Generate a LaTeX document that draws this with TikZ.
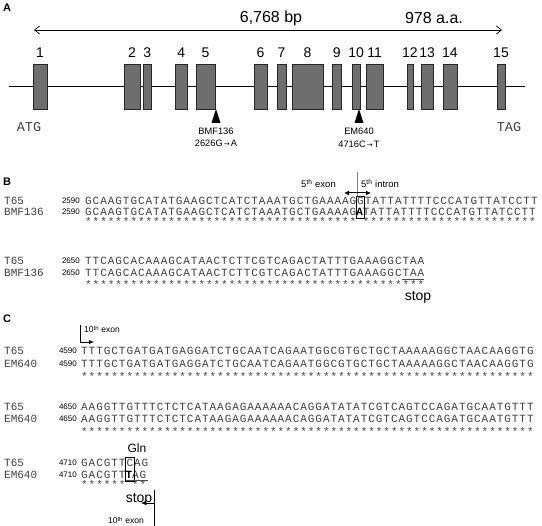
\documentclass[tikz,border=0pt]{standalone}
\usepackage{fontspec}
\setmainfont{Liberation Sans}
\newfontfamily\strainfont{Liberation Mono}
\newfontfamily\seqfont[LetterSpace=8.7]{Liberation Mono}
\newfontfamily\symfont{DejaVu Sans}
\usetikzlibrary{arrows.meta}

\ExplSyntaxOn
\cs_new:Npn \starrun #1 { \prg_replicate:nn {#1} {*} }
\ExplSyntaxOff

\tikzset{
  exon/.style={draw=black!85, fill=black!57, line width=.6pt},
  panel/.style={font=\fontsize{11}{13}\selectfont\bfseries, inner sep=0},
  strain/.style={font=\strainfont\fontsize{11}{13}\selectfont, anchor=base west, inner sep=0, text=black!75},
  seqnum/.style={font=\fontsize{8}{9}\selectfont, anchor=base east, inner sep=0},
  seq/.style={font=\seqfont\fontsize{11}{13}\selectfont, anchor=base west, inner sep=0, text=black!75},
  note/.style={font=\fontsize{9.3}{11}\selectfont, inner sep=0},
  exlab/.style={font=\fontsize{9.5}{11}\selectfont, inner sep=0},
}

\begin{document}
\begin{tikzpicture}[x=1pt, y=-1pt, >={Straight Barb[length=5pt,width=8pt]}]
\useasboundingbox (0,0) rectangle (542,526);

% A
\node[panel] (pa) at (7,8) {A};
\coordinate (al) at (34,30);
\coordinate (ar) at (502,30);
\draw[<->, line width=.7pt] (al) -- (ar);
\node[font=\fontsize{16}{18}\selectfont] (bp) at (271,18) {6,768 bp};
\node[font=\fontsize{16}{18}\selectfont] (aa) at (434,18) {978 a.a.};
\coordinate (gl) at (9,86);
\coordinate (gr) at (525,86);
\draw[line width=.8pt] (gl) -- (gr);
\foreach \l/\r [count=\i] in {33/47,124/140,143.5/151,175/187.5,196/215,254/267,277/286,292/323,332/341.5,352/360.5,366.5/383,407/413,421/433.5,443/457,497/505}{
  \draw[exon] (\l,64) rectangle (\r,109);
  \node[font=\fontsize{14}{16}\selectfont] (n\i) at ({(\l+\r)/2},53) {\i};
}
\node[font=\strainfont\fontsize{13.5}{15}\selectfont, text=black!75] (atg) at (29,127) {ATG};
\node[font=\strainfont\fontsize{13.5}{15}\selectfont, text=black!75] (tag) at (509,127) {TAG};
\fill (216,109) -- (211.5,123) -- (220.5,123) -- cycle;
\fill (359,109) -- (354.5,123) -- (363.5,123) -- cycle;
\node[note] (bmf) at (216,131) {BMF136};
\node[note] (mut1) at (216,143) {2626G{\symfont\fontsize{7}{8}\selectfont\,→\,}A};
\node[note] (em) at (359,131) {EM640};
\node[note] (mut2) at (359,144) {4716C{\symfont\fontsize{7}{8}\selectfont\,→\,}T};

% B
\node[panel] (pb) at (7,182) {B};
\node[exlab, anchor=base east] (ex5) at (336,188) {5\textsuperscript{th} exon};
\node[exlab, anchor=base west] (in5) at (361,188) {5\textsuperscript{th} intron};
\coordinate (jt) at (357.5,172);
\coordinate (jb) at (357.5,197);
\draw[black!50, line width=1.2pt] (jt) -- (jb);
\coordinate (jl) at (344,193);
\coordinate (jr) at (371,193);
\draw[{Latex[length=5pt,width=5pt]}-{Latex[length=5pt,width=5pt]}, line width=1pt] (jl) -- (jr);

\node[strain] (t65a) at (4,204.5) {T65};
\node[seqnum] (na1) at (80,203.5) {2590};
\node[seq] (sa1) at (85,204.5) {GCAAGTGCATATGAAGCTCATCTAAATGCTGAAAAGGTATTATTTTCCCATGTTATCCTT};
\node[strain] (bmfa) at (4,215.5) {BMF136};
\node[seqnum] (na2) at (80,214.5) {2590};
\node[seq] (sa2) at (85,215.5) {GCAAGTGCATATGAAGCTCATCTAAATGCTGAAAAG{\bfseries\color{black}A}TATTATTTTCCCATGTTATCCTT};
\node[seq] (sta) at (85,226) {\starrun{36}\phantom{*}\starrun{23}};
\draw[line width=.6pt] ({85+36*7.557-1},196) rectangle ({85+37*7.557},218);

\node[strain] (t65b) at (4,265) {T65};
\node[seqnum] (nb1) at (80,264) {2650};
\node[seq] (sb1) at (85,265) {TTCAGCACAAAGCATAACTCTTCGTCAGACTATTTGAAAGGCTAA};
\node[strain] (bmfb) at (4,277) {BMF136};
\node[seqnum] (nb2) at (80,276) {2650};
\node[seq] (sb2) at (85,277) {TTCAGCACAAAGCATAACTCTTCGTCAGACTATTTGAAAGGCTAA};
\node[seq] (stb) at (85,288.5) {\starrun{45}};
\draw[black!70, line width=.6pt] ({85+42*7.557},279) -- ({85+45*7.557-1},279);
\node[font=\fontsize{14}{16}\selectfont] (stop1) at (418,297.5) {stop};

% C
\node[panel] (pc) at (7,319) {C};
\node[exlab, font=\fontsize{8.5}{10}\selectfont, anchor=base west] (ex10a) at (84,333) {10\textsuperscript{th} exon};
\coordinate (xt) at (80,325);
\coordinate (xr) at (94,342);
\draw[-{Latex[length=5pt,width=4pt]}] (xt) |- (xr);

\node[strain] (t65c) at (4,354.5) {T65};
\node[seqnum] (nc1) at (77,353.5) {4590};
\node[seq] (sc1) at (81,354.5) {TTTGCTGATGATGAGGATCTGCAATCAGAATGGCGTGCTGCTAAAAAGGCTAACAAGGTG};
\node[strain] (emc) at (4,367.5) {EM640};
\node[seqnum] (nc2) at (77,366.5) {4590};
\node[seq] (sc2) at (81,367.5) {TTTGCTGATGATGAGGATCTGCAATCAGAATGGCGTGCTGCTAAAAAGGCTAACAAGGTG};
\node[seq] (stc) at (81,380.5) {\starrun{60}};

\node[strain] (t65d) at (4,410.5) {T65};
\node[seqnum] (nd1) at (77,409.5) {4650};
\node[seq] (sd1) at (81,410.5) {AAGGTTGTTTCTCTCATAAGAGAAAAAACAGGATATATCGTCAGTCCAGATGCAATGTTT};
\node[strain] (emd) at (4,423) {EM640};
\node[seqnum] (nd2) at (77,422) {4650};
\node[seq] (sd2) at (81,423) {AAGGTTGTTTCTCTCATAAGAGAAAAAACAGGATATATCGTCAGTCCAGATGCAATGTTT};
\node[seq] (std) at (81,436) {\starrun{60}};

\node[font=\fontsize{12}{14}\selectfont] (gln) at (137,448.5) {Gln};
\node[strain] (t65e) at (4,467) {T65};
\node[seqnum] (ne1) at (77,466) {4710};
\node[seq] (se1) at (81,467) {GACGTTCAG};
\node[strain] (eme) at (4,478.5) {EM640};
\node[seqnum] (ne2) at (77,477.5) {4710};
\node[seq] (se2) at (81,478.5) {GACGTT{\bfseries\color{black}T}AG};
\node[seq] (ste) at (81,488.5) {\starrun{6}\phantom{*}\starrun{2}};
\draw[line width=.6pt] ({81+6*7.557-1},457) rectangle ({81+7*7.557},481.5);
\draw[black!70, line width=.6pt] ({81+6*7.557},480.5) -- ({81+9*7.557-1},480.5);

\node[font=\fontsize{14}{16}\selectfont] (stop2) at (139,499) {stop};
\coordinate (yt) at (154,490);
\coordinate (yb) at (154,526);
\draw (yt) -- (yb);
\coordinate (ya) at (154,503);
\coordinate (yl) at (141,503);
\draw[-{Latex[length=5pt,width=4pt]}] (ya) -- (yl);
\node[exlab, font=\fontsize{8.5}{10}\selectfont, anchor=base east] (ex10b) at (144,524) {10\textsuperscript{th} exon};
\end{tikzpicture}
\end{document}
